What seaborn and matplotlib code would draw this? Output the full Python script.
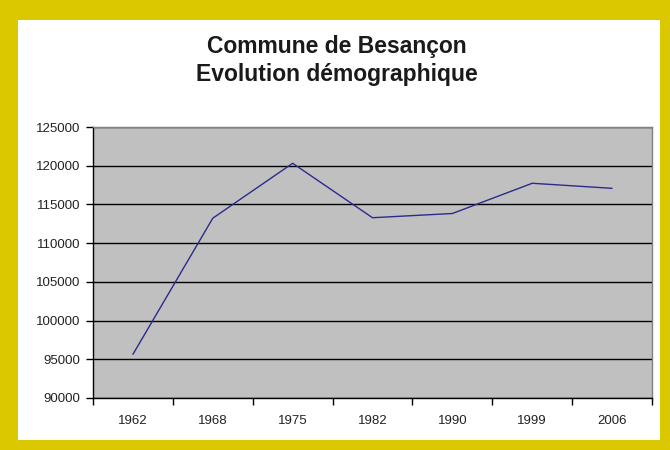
import numpy as np
import pandas as pd
import seaborn as sns
import matplotlib.pyplot as plt
from matplotlib.patches import Rectangle

years = ["1962", "1968", "1975", "1982", "1990", "1999", "2006"]
population = [95642, 113220, 120315, 113283, 113828, 117733, 117080]

df = pd.DataFrame({"annee": years, "population": population})

sns.set_style("white")
plt.rcParams["font.family"] = ["Liberation Sans", "DejaVu Sans"]

fig = plt.figure(figsize=(6.7, 4.5), dpi=100)
fig.patch.set_facecolor("#dcc800")
# white inner card, behind the axes
fig.patches.append(Rectangle((18 / 670, 1 - 440 / 450), (660 - 18) / 670, (440 - 20) / 450,
                             transform=fig.transFigure, facecolor="white", edgecolor="none", zorder=-1))

ax = fig.add_axes([93 / 670, 1 - 398 / 450, (652 - 93) / 670, (398 - 127) / 450])
ax.set_zorder(1)
ax.set_facecolor("#c0c0c0")

sns.lineplot(data=df, x="annee", y="population", ax=ax, color="#2b2b8f", linewidth=1.0)

ax.set_xlim(-0.5, len(years) - 0.5)
ax.set_ylim(90000, 125000)
ax.set_yticks(np.arange(90000, 125001, 5000))
ax.set_xticks(range(len(years)))
ax.set_xticklabels(years)
ax.set_xticks(np.arange(-0.5, len(years)), minor=True)
ax.tick_params(axis="x", which="major", bottom=True, length=0, pad=12, labelsize=9.5, colors="#222222")
ax.tick_params(axis="x", which="minor", bottom=True, length=5, width=1, color="black", direction="out")
ax.tick_params(axis="y", left=True, length=5, width=1, color="black", direction="out",
               labelsize=9.5, pad=4, labelcolor="#222222")
ax.yaxis.grid(True, color="black", linewidth=1.0)
ax.set_axisbelow(True)
ax.set_xlabel("")
ax.set_ylabel("")

for s in ["top", "right"]:
    ax.spines[s].set_color("#808080")
    ax.spines[s].set_linewidth(1.0)
for s in ["left", "bottom"]:
    ax.spines[s].set_color("black")
    ax.spines[s].set_linewidth(1.0)

fig.text(337 / 670, 1 - 47 / 450, "Commune de Besançon", ha="center", va="center",
         fontsize=16.5, fontweight="bold", color="#1a1a1a", zorder=2)
fig.text(337 / 670, 1 - 74 / 450, "Evolution démographique", ha="center", va="center",
         fontsize=16.5, fontweight="bold", color="#1a1a1a", zorder=2)

fig.savefig("out.png", dpi=100, facecolor=fig.get_facecolor())
